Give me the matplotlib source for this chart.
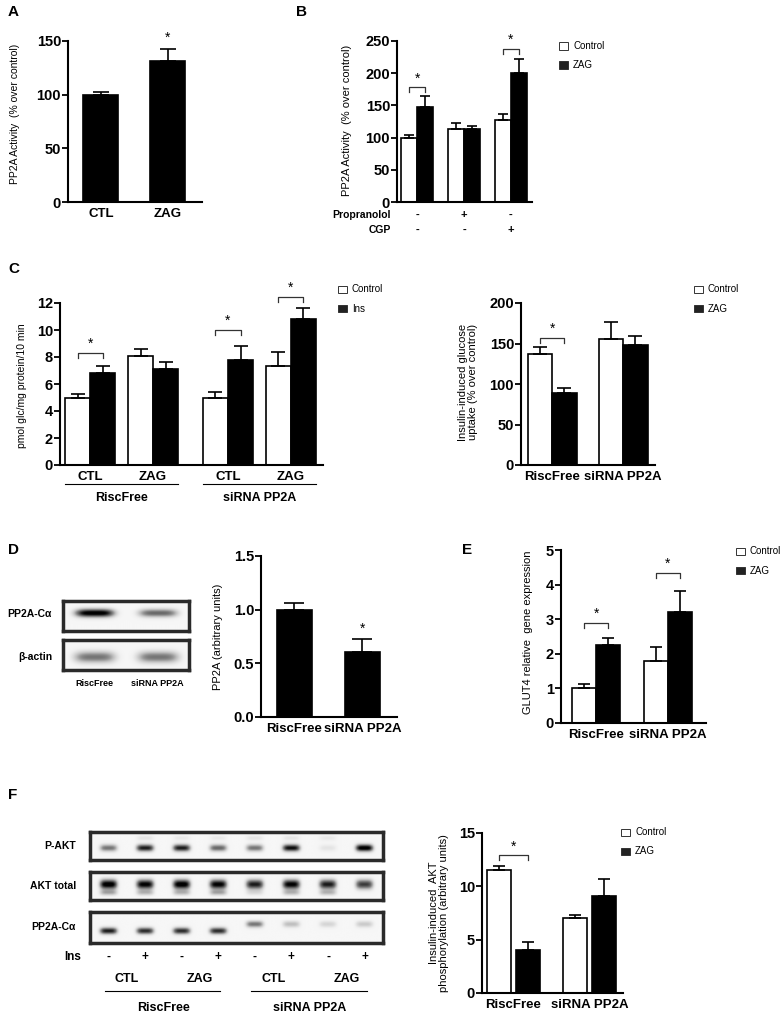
import numpy as np
import matplotlib
matplotlib.use('Agg')
import matplotlib.pyplot as plt
from matplotlib.patches import Rectangle
from matplotlib.ticker import FormatStrFormatter
from matplotlib.transforms import blended_transform_factory as blend

W, H = 784, 1014
plt.rcParams['font.family'] = ['Liberation Sans', 'DejaVu Sans']

# ---- data ----
a_labels = ['CTL', 'ZAG']
a_vals = [100, 131]
a_err = [2.5, 11.5]

b_ctrl = [100, 114, 128]
b_ctrl_err = [4, 9, 9]
b_zag = [147, 113, 200]
b_zag_err = [17, 5, 22]
b_propranolol = ['-', '+', '-']
b_cgp = ['-', '-', '+']
b_sig = [(0, 178), (2, 238)]

c_groups = ['CTL', 'ZAG', 'CTL', 'ZAG']
c_ctrl = [5.0, 8.05, 5.0, 7.35]
c_ctrl_err = [0.25, 0.55, 0.4, 1.05]
c_ins = [6.85, 7.1, 7.75, 10.85]
c_ins_err = [0.45, 0.55, 1.1, 0.8]
c_sig = [(0, 8.3), (2, 10.0), (3, 12.45)]

cr_labels = ['RiscFree', 'siRNA PP2A']
cr_ctrl = [137, 155]
cr_ctrl_err = [9, 22]
cr_zag = [89, 148]
cr_zag_err = [6, 11]
cr_sig = [(0, 157)]

d_vals = [1.0, 0.61]
d_err = [0.06, 0.12]
d_pp2a = [1.0, 0.6]
d_actin = [0.55, 0.55]

e_ctrl = [1.0, 1.78]
e_ctrl_err = [0.12, 0.42]
e_zag = [2.25, 3.22]
e_zag_err = [0.22, 0.6]
e_sig = [(0, 2.88), (1, 4.33)]

f_ins = ['-', '+'] * 4
f_treat = ['CTL', 'ZAG', 'CTL', 'ZAG']
f_pakt = [0.55, 0.85, 0.85, 0.6, 0.55, 0.9, 0.12, 1.0]
f_pakt_upper = [0.0, 0.12, 0.1, 0.1, 0.12, 0.12, 0.1, 0.0]
f_akt = [1.0, 0.95, 1.0, 0.95, 0.85, 0.95, 0.85, 0.75]
f_akt_lower = [0.35, 0.3, 0.3, 0.35, 0.15, 0.3, 0.3, 0.0]
f_pp2a = [0.85, 0.8, 0.8, 0.8, 0.55, 0.3, 0.2, 0.25]
f_pp2a_y = [0.39] * 4 + [0.61] * 4
f_ctrl = [11.5, 7.0]
f_ctrl_err = [0.4, 0.3]
f_zag = [4.0, 9.05]
f_zag_err = [0.75, 1.65]
f_sig = [(0, 12.9)]

fig = plt.figure(figsize=(W / 100, H / 100), dpi=100)


def px_axes(l, t, r, b):
    return fig.add_axes([l / W, 1 - b / H, (r - l) / W, (b - t) / H])


def fy(y):
    return 1 - y / H


def style(ax, ymax, step, fmt='%d', xsize=9.5):
    ax.set_ylim(0, ymax)
    ax.set_yticks(np.arange(0, ymax + step / 2, step))
    ax.yaxis.set_major_formatter(FormatStrFormatter(fmt))
    for s in ['top', 'right']:
        ax.spines[s].set_visible(False)
    for s in ['left', 'bottom']:
        ax.spines[s].set_linewidth(1.5)
    ax.tick_params(axis='y', direction='out', length=4, width=1.3, labelsize=10.5, pad=1)
    ax.tick_params(axis='x', length=0, labelsize=xsize, pad=4)
    plt.setp(ax.get_yticklabels(), fontweight='bold')
    plt.setp(ax.get_xticklabels(), fontweight='bold')


def pair_bars(ax, ctrl, ctrl_err, trt, trt_err, pos, w, cap, gap=0.0):
    pos = np.asarray(pos, float)
    xc = pos - w / 2 - gap / 2
    xt = pos + w / 2 + gap / 2
    ax.bar(xc, ctrl, w, color='white', edgecolor='black', linewidth=1.2, zorder=2)
    ax.bar(xt, trt, w, color='black', edgecolor='black', linewidth=1.2, zorder=2)
    for x, v, e in [(xc, ctrl, ctrl_err), (xt, trt, trt_err)]:
        ax.errorbar(x, v, yerr=[np.zeros(len(v)), e], fmt='none', ecolor='black',
                    elinewidth=1.2, capsize=cap, capthick=1.2, zorder=3)
    return xc, xt


def bracket(ax, x0, x1, y):
    ymin, ymax = ax.get_ylim()
    drop = 5 * (ymax - ymin) / ax.bbox.height
    ax.plot([x0, x0, x1, x1], [y - drop, y, y, y - drop], color='#333', lw=0.9,
            clip_on=False, zorder=4)
    ax.annotate('*', ((x0 + x1) / 2, y), xytext=(0, 1.5), textcoords='offset points',
                ha='center', va='bottom', fontsize=10, annotation_clip=False)


def legend(x, y, labels):
    for i, (lab, fc) in enumerate(zip(labels, ['white', '#222'])):
        yy = y + i * 19
        fig.add_artist(Rectangle((x / W, fy(yy + 3.5)), 9 / W, 7 / H, transform=fig.transFigure,
                                 facecolor=fc, edgecolor='#333', lw=0.7))
        fig.text((x + 14) / W, fy(yy), lab, fontsize=7, va='center', ha='left')


def blot(ax, bands, halfw=0.24):
    n = len(bands[0][0])
    x = np.linspace(0, n, 480)
    y = np.linspace(0, 1, 60)
    X, Y = np.meshgrid(x, y)
    img = np.full_like(X, 0.07)
    for inten, ycen, sig in bands:
        ycen = np.broadcast_to(ycen, (n,))
        for i, a in enumerate(inten):
            img += a * np.exp(-np.abs((X - i - 0.5) / halfw) ** 4) * np.exp(-((Y - ycen[i]) / sig) ** 2)
    ax.imshow(np.clip(img, 0, 1), cmap='Greys', vmin=0, vmax=1, extent=(0, n, 0, 1),
              aspect='auto', origin='lower', interpolation='bilinear')
    ax.set_xlim(0, n)
    ax.set_xticks([])
    ax.set_yticks([])
    for s in ax.spines.values():
        s.set_linewidth(2.5)
        s.set_color('#2a2a2a')


def ylab(x, y, text, size=8):
    fig.text(x / W, fy(y), text, rotation=90, ha='center', va='center', fontsize=size,
             multialignment='center', linespacing=1.1)


def letter(x, y, s):
    fig.text(x / W, fy(y), s, fontsize=11, fontweight='bold', ha='left', va='top')


# ---- A ----
ax = px_axes(68, 41, 202, 202)
pos = np.arange(2)
ax.bar(pos, a_vals, 0.52, color='black', edgecolor='black', linewidth=1.2, zorder=2)
ax.errorbar(pos, a_vals, yerr=[np.zeros(2), a_err], fmt='none', ecolor='black',
            elinewidth=1.2, capsize=6, capthick=1.2, zorder=3)
ax.set_xlim(-0.49, 1.51)
ax.set_xticks(pos)
ax.set_xticklabels(a_labels)
style(ax, 150, 50)
ax.annotate('*', (1, a_vals[1] + a_err[1]), xytext=(0, 3), textcoords='offset points',
            ha='center', va='bottom', fontsize=10, annotation_clip=False)
ylab(15, 114, 'PP2A Activity  (% over control)', 7.5)
letter(8, 5, 'A')

# ---- B ----
ax = px_axes(397, 41, 532, 202)
pos = np.arange(3)
xc, xt = pair_bars(ax, b_ctrl, b_ctrl_err, b_zag, b_zag_err, pos, 0.34, 3.3)
ax.set_xlim(-0.43, 2.45)
ax.set_xticks([])
style(ax, 250, 50)
for g, yb in b_sig:
    bracket(ax, xc[g], xt[g], yb)
tr = blend(ax.transData, fig.transFigure)
for i in range(3):
    ax.text(pos[i], fy(215), b_propranolol[i], transform=tr, ha='center', va='center',
            fontsize=8, fontweight='bold')
    ax.text(pos[i], fy(230), b_cgp[i], transform=tr, ha='center', va='center',
            fontsize=8, fontweight='bold')
fig.text(391 / W, fy(215), 'Propranolol', ha='right', va='center', fontsize=7.5, fontweight='bold')
fig.text(391 / W, fy(230), 'CGP', ha='right', va='center', fontsize=7.5, fontweight='bold')
ylab(347, 120, 'PP2A Activity  (% over control)', 8)
legend(559, 46, ['Control', 'ZAG'])
letter(296, 5, 'B')

# ---- C left ----
ax = px_axes(60, 303, 323, 465)
pos = np.array([0, 1, 2.19, 3.19])
w = 0.4
xc, xt = pair_bars(ax, c_ctrl, c_ctrl_err, c_ins, c_ins_err, pos, w, 5)
ax.set_xlim(-0.48, 3.7)
ax.set_xticks(pos)
ax.set_xticklabels(c_groups)
style(ax, 12, 2)
for g, yb in c_sig:
    bracket(ax, xc[g], xt[g], yb)
tr = blend(ax.transData, fig.transFigure)
for i, lab in enumerate(['RiscFree', 'siRNA PP2A']):
    x0, x1 = pos[2 * i] - w, pos[2 * i + 1] + w
    ax.plot([x0, x1], [fy(484), fy(484)], transform=tr, color='black', lw=0.8, clip_on=False)
    ax.text((pos[2 * i] + pos[2 * i + 1]) / 2, fy(498), lab, transform=tr, ha='center',
            va='center', fontsize=9, fontweight='bold')
ylab(22, 386, 'pmol glc/mg protein/10 min', 7.5)
legend(338, 289.5, ['Control', 'Ins'])
letter(8, 262, 'C')

# ---- C right ----
ax = px_axes(521, 303, 655, 465)
pos = np.arange(2)
xc, xt = pair_bars(ax, cr_ctrl, cr_ctrl_err, cr_zag, cr_zag_err, pos, 0.345, 5)
ax.set_xlim(-0.44, 1.45)
ax.set_xticks(pos)
ax.set_xticklabels(cr_labels)
style(ax, 200, 50)
for g, yb in cr_sig:
    bracket(ax, xc[g], xt[g], yb)
ylab(468, 382, 'Insulin-induced glucose\nuptake (% over control)', 8)
legend(694, 289.5, ['Control', 'ZAG'])

# ---- D blot ----
axb = px_axes(63, 601, 189, 631)
blot(axb, [(d_pp2a, 0.6, 0.14)], halfw=0.31)
axb2 = px_axes(63, 640, 189, 670)
blot(axb2, [(d_actin, 0.43, 0.2)], halfw=0.33)
fig.text(52 / W, fy(614), 'PP2A-C\u03b1', ha='right', va='center', fontsize=7.5, fontweight='bold')
fig.text(52 / W, fy(657), '\u03b2-actin', ha='right', va='center', fontsize=7.5, fontweight='bold')
tr = blend(axb2.transData, fig.transFigure)
for i, lab in enumerate(cr_labels):
    axb2.text(i + 0.5, fy(684), lab, transform=tr, ha='center', va='center', fontsize=6.5,
              fontweight='bold')
letter(8, 543, 'D')

# ---- D bars ----
ax = px_axes(261, 556, 397, 717)
pos = np.arange(2)
ax.bar(pos, d_vals, 0.51, color='black', edgecolor='black', linewidth=1.2, zorder=2)
ax.errorbar(pos, d_vals, yerr=[np.zeros(2), d_err], fmt='none', ecolor='black',
            elinewidth=1.2, capsize=7, capthick=1.2, zorder=3)
ax.set_xlim(-0.49, 1.51)
ax.set_xticks(pos)
ax.set_xticklabels(cr_labels)
style(ax, 1.5, 0.5, '%.1f')
ax.annotate('*', (1, d_vals[1] + d_err[1]), xytext=(0, 2), textcoords='offset points',
            ha='center', va='bottom', fontsize=10)
ylab(218, 637, 'PP2A (arbitrary units)', 8)

# ---- E ----
ax = px_axes(561, 550, 706, 723)
xc, xt = pair_bars(ax, e_ctrl, e_ctrl_err, e_zag, e_zag_err, pos, 0.33, 4.3)
ax.set_xlim(-0.49, 1.53)
ax.set_xticks(pos)
ax.set_xticklabels(cr_labels)
style(ax, 5, 1)
for g, yb in e_sig:
    bracket(ax, xc[g], xt[g], yb)
ylab(528, 632, 'GLUT4 relative  gene expression', 8)
legend(736, 551.5, ['Control', 'ZAG'])
letter(462, 543, 'E')

# ---- F blots ----
ax1 = px_axes(90, 832, 383, 860)
blot(ax1, [(f_pakt, 0.43, 0.13), (f_pakt_upper, 0.79, 0.1)])
ax2 = px_axes(90, 872, 383, 900)
blot(ax2, [(f_akt, 0.54, 0.17), (f_akt_lower, 0.25, 0.1)])
ax3 = px_axes(90, 912, 383, 943)
blot(ax3, [(f_pp2a, f_pp2a_y, 0.11)])
for yy, lab in [(846, 'P-AKT'), (886, 'AKT total'), (927, 'PP2A-C\u03b1')]:
    fig.text(76 / W, fy(yy), lab, ha='right', va='center', fontsize=7.5, fontweight='bold')
tr = blend(ax3.transData, fig.transFigure)
fig.text(73 / W, fy(957), 'Ins', ha='center', va='center', fontsize=8.5, fontweight='bold')
for i, s in enumerate(f_ins):
    ax3.text(i + 0.5, fy(957), s, transform=tr, ha='center', va='center', fontsize=8.5,
             fontweight='bold')
for j, lab in enumerate(f_treat):
    ax3.text(2 * j + 1, fy(979), lab, transform=tr, ha='center', va='center', fontsize=9,
             fontweight='bold')
for k, lab in enumerate(cr_labels):
    ax3.plot([4 * k + 0.4, 4 * k + 3.55], [fy(991), fy(991)], transform=tr, color='black',
             lw=0.8, clip_on=False)
    ax3.text(4 * k + 2, fy(1008), lab, transform=tr, ha='center', va='center', fontsize=9,
             fontweight='bold')
letter(8, 788, 'F')

# ---- F bars ----
ax = px_axes(482, 833, 623, 993)
xc, xt = pair_bars(ax, f_ctrl, f_ctrl_err, f_zag, f_zag_err, pos, 0.316, 4.5, gap=0.066)
ax.set_xlim(-0.41, 1.44)
ax.set_xticks(pos)
ax.set_xticklabels(cr_labels)
style(ax, 15, 5)
for g, yb in f_sig:
    bracket(ax, xc[g], xt[g], yb)
ylab(439, 913, 'Insulin-induced  AKT\nphosphorylation (arbitrary units)', 8)
legend(621, 832, ['Control', 'ZAG'])

fig.savefig('out.png', dpi=100)
